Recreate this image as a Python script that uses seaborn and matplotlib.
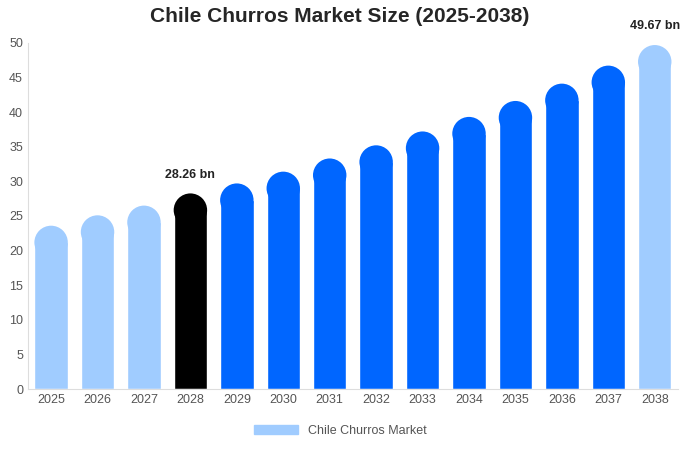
import matplotlib
matplotlib.use("Agg")
import matplotlib.pyplot as plt
from matplotlib.patches import Ellipse, Patch
import seaborn as sns

years = [str(y) for y in range(2025, 2039)]
values = [23.6, 25.1, 26.5, 28.26, 29.7, 31.4, 33.3, 35.2, 37.2, 39.3, 41.6, 44.1, 46.7, 49.67]
light, blue = '#A0CCFF', '#0066FF'
colors = [light, light, light, '#000000'] + [blue] * 9 + [light]

sns.set_style("white")
plt.rcParams['font.family'] = ['Liberation Sans', 'DejaVu Sans']

fig = plt.figure(figsize=(6.8, 4.5), dpi=100)
ax = fig.add_axes([0.041, 0.135, 0.956, 0.77])
sns.barplot(x=years, y=values, palette=colors, hue=years, legend=False,
            width=0.72, saturation=1, ax=ax)
ax.set_ylim(0, 50)
ax.set_xlim(-0.5, len(years) - 0.5)
fig.canvas.draw()

# round the bar tops
units_per_px_y = 50 / ax.get_window_extent().height
for p, c in zip(ax.patches, colors):
    w = p.get_width()
    px_w = ax.transData.transform((w, 0))[0] - ax.transData.transform((0, 0))[0]
    ry = px_w / 2 * units_per_px_y
    h = p.get_height()
    p.set_height(h - ry)
    ax.add_patch(Ellipse((p.get_x() + w / 2, h - ry), w, 2 * ry, color=c, lw=0))

for i in (3, 13):
    ax.text(i, values[i] + 1.8 if i == 3 else 51.5, f'{values[i]:.2f} bn',
            ha='center', va='bottom', fontsize=9, fontweight='bold', color='#222222')

ax.set_yticks(range(0, 51, 5))
ax.tick_params(labelsize=9, colors='#555555', length=0)
for s in ('top', 'right'):
    ax.spines[s].set_visible(False)
for s in ('left', 'bottom'):
    ax.spines[s].set_color('#dddddd')
ax.set_xlabel('')
ax.set_ylabel('')

fig.suptitle('Chile Churros Market Size (2025-2038)', fontsize=15,
             fontweight='bold', y=0.985)
fig.legend(handles=[Patch(color=light, label='Chile Churros Market')],
           loc='lower center', bbox_to_anchor=(0.5, 0.005), frameon=False,
           fontsize=9, labelcolor='#555555', handlelength=3.5)
fig.savefig('out.png', dpi=100)
